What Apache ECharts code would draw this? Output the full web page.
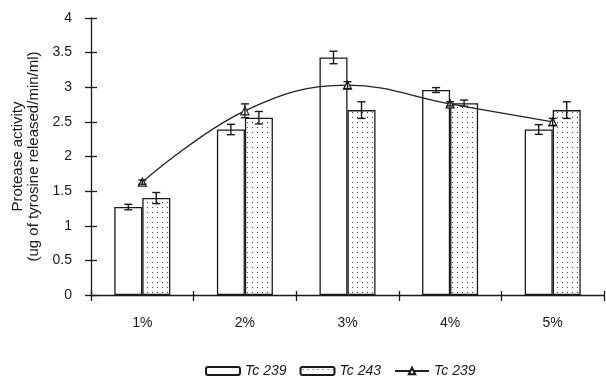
<!DOCTYPE html>
<html>
<head>
<meta charset="utf-8">
<script src="https://cdn.jsdelivr.net/npm/echarts@6/dist/echarts.min.js"></script>
<style>
  html, body { margin: 0; padding: 0; background: #fff; }
  #chart { width: 606px; height: 380px; }
</style>
</head>
<body>
<div id="chart"></div>
<script>
// Substrate concentration (casein %)
const categories = ['1%', '2%', '3%', '4%', '5%'];

// Protease activity of strain Tc 239 (open bars) with standard error
const tc239 = [1.27, 2.39, 3.43, 2.96, 2.39];
const tc239Err = [0.04, 0.075, 0.09, 0.035, 0.07];

// Protease activity of strain Tc 243 (dotted bars) with standard error
const tc243 = [1.40, 2.56, 2.67, 2.77, 2.67];
const tc243Err = [0.08, 0.09, 0.12, 0.045, 0.12];

// Tc 239 curve (triangles) with standard error
const trend = [1.63, 2.66, 3.03, 2.76, 2.50];
const trendErr = [0.03, 0.1, 0.05, 0.03, 0.05];

// Y axis ticks
const yMin = 0, yMax = 4, yStep = 0.5;

const FONT = '"Liberation Sans", Arial, sans-serif';
const INK = '#1a1a1a';
const BAR_W = 28;

// Dotted fill pattern for the Tc 243 bars
function dotPattern() {
  const c = document.createElement('canvas');
  c.width = 5; c.height = 5;
  const g = c.getContext('2d');
  g.fillStyle = '#ffffff';
  g.fillRect(0, 0, 5, 5);
  g.fillStyle = '#444444';
  g.fillRect(2, 2, 1, 1);
  return c;
}

// Error bar drawn at a horizontal offset from the category centre
function errorRenderer(offset, cap) {
  return function (params, api) {
    const i = api.value(0), v = api.value(1), e = api.value(2);
    const top = api.coord([i, v + e]);
    const bot = api.coord([i, v - e]);
    const x = top[0] + offset;
    const style = { stroke: INK, lineWidth: 1.4 };
    return {
      type: 'group',
      children: [
        { type: 'line', shape: { x1: x, y1: top[1], x2: x, y2: bot[1] }, style },
        { type: 'line', shape: { x1: x - cap, y1: top[1], x2: x + cap, y2: top[1] }, style },
        { type: 'line', shape: { x1: x - cap, y1: bot[1], x2: x + cap, y2: bot[1] }, style }
      ]
    };
  };
}

const errData = (vals, errs) => vals.map((v, i) => [i, v, errs[i]]);

const labelOf = { 'Tc 239 bars': 'Tc 239', 'Tc 243 bars': 'Tc 243', 'Tc 239 curve': 'Tc 239' };

const chart = echarts.init(document.getElementById('chart'), null, { renderer: 'canvas' });

chart.setOption({
  animation: false,
  backgroundColor: '#ffffff',
  textStyle: { fontFamily: FONT },
  grid: { left: 91, right: 2, top: 18, bottom: 85, containLabel: false },
  legend: {
    left: 205,
    top: 364,
    padding: 0,
    itemWidth: 34,
    itemHeight: 8,
    itemGap: 13,
    data: ['Tc 239 bars', 'Tc 243 bars', 'Tc 239 curve'],
    formatter: (name) => labelOf[name],
    textStyle: { fontFamily: FONT, fontStyle: 'italic', fontSize: 14, color: INK }
  },
  xAxis: [
    {
      type: 'category',
      data: categories,
      boundaryGap: true,
      axisLine: { lineStyle: { color: INK, width: 1.3 } },
      axisTick: { show: true, length: 6, lineStyle: { color: INK, width: 1.3 } },
      axisLabel: { color: INK, fontSize: 14, margin: 21, fontFamily: FONT },
      splitLine: { show: false }
    },
    {
      type: 'category',
      data: categories,
      position: 'bottom',
      boundaryGap: true,
      axisLine: { show: false },
      axisTick: { show: true, inside: true, length: 4, lineStyle: { color: INK, width: 1.3 } },
      axisLabel: { show: false },
      splitLine: { show: false }
    }
  ],
  yAxis: [
    {
      type: 'value',
      min: yMin, max: yMax, interval: yStep,
      name: 'Protease activity\n(ug of tyrosine released/min/ml)',
      nameLocation: 'middle',
      nameRotate: 90,
      nameGap: 44,
      nameTextStyle: { color: INK, fontSize: 15, lineHeight: 16, fontFamily: FONT },
      axisLine: { show: true, lineStyle: { color: INK, width: 1.3 } },
      axisTick: { show: true, length: 6, lineStyle: { color: INK, width: 1.3 } },
      axisLabel: { color: INK, fontSize: 14, margin: 19, fontFamily: FONT },
      splitLine: { show: false }
    },
    {
      type: 'value',
      position: 'left',
      min: yMin, max: yMax, interval: yStep,
      axisLine: { show: false },
      axisTick: { show: true, inside: true, length: 6, lineStyle: { color: INK, width: 1.3 } },
      axisLabel: { show: false },
      splitLine: { show: false }
    }
  ],
  series: [
    {
      name: 'Tc 239 bars',
      type: 'bar',
      data: tc239,
      barWidth: BAR_W,
      barGap: '0%',
      itemStyle: { color: '#ffffff', borderColor: INK, borderWidth: 1.3 },
      z: 2
    },
    {
      name: 'Tc 243 bars',
      type: 'bar',
      data: tc243,
      barWidth: BAR_W,
      barGap: '0%',
      itemStyle: { color: { image: dotPattern(), repeat: 'repeat' }, borderColor: INK, borderWidth: 1.3 },
      z: 2
    },
    {
      name: 'Tc 239 curve',
      type: 'line',
      data: trend,
      smooth: 0.4,
      symbol: 'triangle',
      symbolSize: 8,
      lineStyle: { color: '#222', width: 1.3 },
      itemStyle: { color: '#ffffff', borderColor: INK, borderWidth: 1.2 },
      z: 5
    },
    {
      type: 'custom',
      renderItem: errorRenderer(-BAR_W / 2, 4),
      data: errData(tc239, tc239Err),
      z: 4
    },
    {
      type: 'custom',
      renderItem: errorRenderer(BAR_W / 2, 4),
      data: errData(tc243, tc243Err),
      z: 4
    },
    {
      type: 'custom',
      renderItem: errorRenderer(0, 4),
      data: errData(trend, trendErr),
      z: 6
    }
  ]
});
</script>
</body>
</html>
